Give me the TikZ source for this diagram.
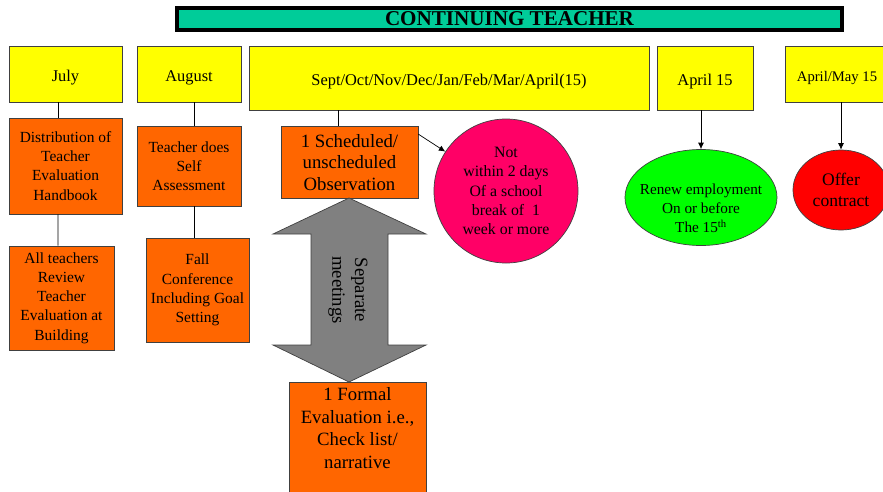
\documentclass[tikz,border=0pt]{standalone}
\usepackage{fontspec}
\setmainfont{Liberation Serif}
\usetikzlibrary{positioning, arrows.meta, shapes.geometric}
\definecolor{bartitle}{HTML}{00CC99}
\definecolor{monthyellow}{HTML}{FFFF00}
\definecolor{taskorange}{HTML}{FF6600}
\definecolor{notepink}{HTML}{FF0066}
\definecolor{renewgreen}{HTML}{00FF00}
\definecolor{offerred}{HTML}{FF0000}
\tikzset{
x=0.03cm, y=-0.03cm, % one unit is one pixel of the sketch
>={Latex[length=5.5pt, width=5pt]}, % filled triangle arrow heads
month/.style={draw=black!75, line width=0.6pt, fill=monthyellow, text height=15pt, text depth=3pt, font=\fontsize{14}{17}\selectfont}, % the month headers
task/.style={draw=black!75, line width=0.6pt, fill=taskorange, align=center, font=\fontsize{13.2}{16.4}\selectfont}, % orange steps
bigtask/.style={task, font=\fontsize{16}{18.4}\selectfont}, % steps with larger text
link/.style={black, line width=0.6pt}, % plain connectors
pointer/.style={link, ->}, % connectors with a head
}
\begin{document}
\begin{tikzpicture}
\useasboundingbox (0,0) rectangle (883,491);
\clip (0,0) rectangle (883,491);
% title bar
\node[draw=black, line width=3.4pt, fill=bartitle, minimum width=19.95cm, minimum height=0.66cm, inner sep=0pt,
    font=\fontsize{18}{18}\selectfont\bfseries] (title) at (509.5,19) {CONTINUING TEACHER};
% month headers
\node[month, minimum width=3.39cm, minimum height=1.68cm] (july) at (65.5,74) {July};
\node[month, minimum width=3.12cm, minimum height=1.68cm] (august) at (189,74) {August};
\node[month, minimum width=12cm, minimum height=1.92cm] (sept) at (449,78) {Sept/Oct/Nov/Dec/Jan/Feb/Mar/April(15)};
\node[month, minimum width=2.88cm, minimum height=1.92cm] (aprfifteen) at (705,78) {April 15};
\node[month, minimum width=3.12cm, minimum height=1.68cm, font=\fontsize{12.5}{15}\selectfont] (aprmay) at (837,74) {April/May 15};
% steps
\node[task, minimum width=3.39cm, minimum height=2.88cm] (handbook) at (65.5,166) {Distribution of\\Teacher\\Evaluation\\Handbook};
\node[task, minimum width=3.15cm, minimum height=3.12cm] (review) at (61.5,298) {All teachers\\Review\\Teacher\\Evaluation at\\Building};
\node[task, minimum width=3.12cm, minimum height=2.4cm] (selfassess) at (189,166) {Teacher does\\Self\\Assessment};
\node[task, minimum width=3.09cm, minimum height=3.12cm] (fallconf) at (197.5,290) {Fall\\Conference\\Including Goal\\Setting};
\node[bigtask, minimum width=4.11cm, minimum height=2.16cm] (observe) at (349.5,162.5) {1 Scheduled/\\unscheduled\\Observation};
\node[task, minimum width=4.11cm, minimum height=3.45cm,
    label={[align=center, anchor=north, font=\fontsize{16}{19.3}\selectfont, inner sep=5pt]north:{1 Formal\\Evaluation i.e.,\\Check list/\\narrative}}] (formal) at (357.5,439.5) {};
% notes and outcomes
\node[circle, draw=black!75, line width=0.6pt, fill=notepink, minimum size=4.32cm, inner sep=0pt, align=center,
    font=\fontsize{13.5}{16.4}\selectfont] (breaknote) at (506,191) {Not\\within 2 days\\Of a school\\break of~ 1\\week or more};
\node[ellipse, draw=black!75, line width=0.6pt, fill=renewgreen, minimum width=4.56cm, minimum height=2.88cm,
    label={[align=center, yshift=-0.33cm, font=\fontsize{13}{16.2}\selectfont]center:{Renew employment\\On or before\\The 15\textsuperscript{th}}}] (renew) at (701,197.5) {};
\node[ellipse, draw=black!75, line width=0.6pt, fill=offerred, minimum width=2.88cm, minimum height=2.4cm, align=center,
    font=\fontsize{15}{18.5}\selectfont] (offer) at (841,190) {Offer\\contract};
% separate meetings arrow
\filldraw[draw=black!75, line width=0.6pt, fill=gray] (349,198) -- (426,234) -- (388,234) -- (388,345) -- (426,345) -- (349,382)
    -- (273,345) -- (311,345) -- (311,234) -- (273,234) -- cycle;
\node[rotate=-90, align=center, font=\fontsize{16}{19.5}\selectfont] (meetings) at (348,290) {Separate\\meetings};
% connectors
\draw[link] ([xshift=-0.225cm]july.south) -- ([xshift=-0.225cm]handbook.north);
\draw[link] ([xshift=-0.225cm]handbook.south) -- ([xshift=-0.105cm]review.north);
\draw[link] ([xshift=0.15cm]august.south) -- ([xshift=0.15cm]selfassess.north);
\draw[link] ([xshift=0.15cm]selfassess.south) -- ([xshift=-0.105cm]fallconf.north);
\draw[link] ([xshift=-0.345cm]observe.north |- sept.south) -- ([xshift=-0.345cm]observe.north);
\draw[pointer] ([yshift=-0.24cm]observe.north east) -- (breaknote);
\draw[pointer] (renew.north |- aprfifteen.south) -- (renew.north);
\draw[pointer] (offer.north |- aprmay.south) -- (offer.north);
\end{tikzpicture}
\end{document}
